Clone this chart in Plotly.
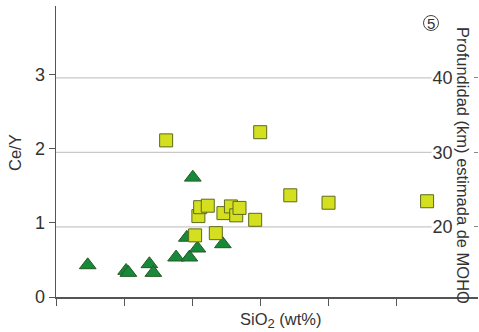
import plotly.graph_objects as go

# SiO2 (wt%) and Ce/Y values
tri_sio2 = [47.33, 50.15, 50.32, 51.86, 52.15, 53.82, 54.80, 54.61, 55.05, 55.39, 57.26]
tri_cey  = [0.43, 0.354, 0.327, 0.444, 0.327, 0.534, 0.534, 0.80, 1.61, 0.655, 0.713]

sq_sio2 = [53.09, 60.0, 55.46, 55.59, 56.15, 57.30, 57.85, 58.24, 58.48, 59.63, 55.22, 56.74, 62.21, 65.02, 72.26]
sq_cey  = [2.11, 2.22, 1.09, 1.21, 1.23, 1.13, 1.22, 1.10, 1.20, 1.04, 0.83, 0.86, 1.37, 1.27, 1.29]

x_ticks = [45, 50, 55, 60, 65, 70, 75]
y_ticks = [0, 1, 2, 3]
depth_ticks = [20, 30, 40]

FONT = "Liberation Sans, Arial, sans-serif"

L, R, T, B = 56, 478, 6, 297
W, H = 479, 332
PW, PH = R - L, B - T


def px(x):
    return (x - L) / PW


def py(y):
    return (B - y) / PH


fig = go.Figure()
fig.add_trace(go.Scatter(
    x=tri_sio2, y=tri_cey, mode="markers",
    marker=dict(symbol="triangle-up", size=14.5, color="#17893a",
                line=dict(color="#245a22", width=1)),
    showlegend=False, hoverinfo="skip"))
fig.add_trace(go.Scatter(
    x=sq_sio2, y=sq_cey, mode="markers",
    marker=dict(symbol="square", size=13, color="#d3df1f",
                line=dict(color="#5c6b1c", width=1)),
    showlegend=False, hoverinfo="skip"))
# invisible trace to activate the depth axis
fig.add_trace(go.Scatter(x=[None], y=[None], yaxis="y2", showlegend=False))

for d in depth_ticks:
    fig.add_shape(type="line", xref="paper", yref="y2", x0=0, x1=0.89, y0=d, y1=d,
                  line=dict(color="#c8c8c8", width=1.2), layer="below")

# circled panel number
fig.add_shape(type="circle", xref="paper", yref="paper",
              x0=px(423.5), x1=px(438.5), y0=py(30.5), y1=py(15.5),
              line=dict(color="#444", width=1))

fig.update_layout(
    width=W, height=H,
    margin=dict(l=L, r=W - R, t=T, b=H - B),
    plot_bgcolor="white", paper_bgcolor="white",
    font=dict(family=FONT, color="#333"),
    xaxis=dict(range=[45, 76.0], tickvals=x_ticks, showticklabels=False, automargin=False,
               ticks="outside", ticklen=7, tickcolor="#555", showgrid=False,
               showline=True, linecolor="#555", linewidth=1.5, zeroline=False),
    yaxis=dict(range=[0, 3.92], tickvals=y_ticks, ticks="outside", ticklen=6, automargin=False,
               tickcolor="#555", showgrid=False, showline=True, linecolor="#555",
               linewidth=1.5, zeroline=False, tickfont=dict(size=18, color="#333")),
    yaxis2=dict(overlaying="y", side="right", range=[10.6, 49.66], tickvals=depth_ticks,
                ticks="inside", ticklen=4, tickcolor="#888", showgrid=False, automargin=False,
                showline=False, zeroline=False, ticklabelposition="inside",
                ticklabelstandoff=22, tickfont=dict(size=18, color="#333")),
)

fig.add_annotation(x=px(281), y=py(320), xref="paper", yref="paper",
                   text="SiO<sub><span style='font-size:13px'>2</span></sub> (wt%)",
                   showarrow=False, font=dict(size=16.5, color="#333"), xanchor="center", yanchor="middle")
fig.add_annotation(x=px(15), y=py(153), xref="paper", yref="paper", text="Ce/Y",
                   showarrow=False, textangle=-90, font=dict(size=16.5, color="#333"),
                   xanchor="center", yanchor="middle")
fig.add_annotation(x=px(463), y=py(165), xref="paper", yref="paper",
                   text="Profundidad (km) estimada de MOHO",
                   showarrow=False, textangle=90, font=dict(size=16.5, color="#333"),
                   xanchor="center", yanchor="middle")
fig.add_annotation(x=px(431), y=py(23), xref="paper", yref="paper", text="5",
                   showarrow=False, font=dict(size=15, color="#333"), xanchor="center", yanchor="middle")

fig.write_html("out.html", config={"displayModeBar": False, "staticPlot": True},
               post_script="document.body.style.margin='0';document.body.style.overflow='hidden';")
